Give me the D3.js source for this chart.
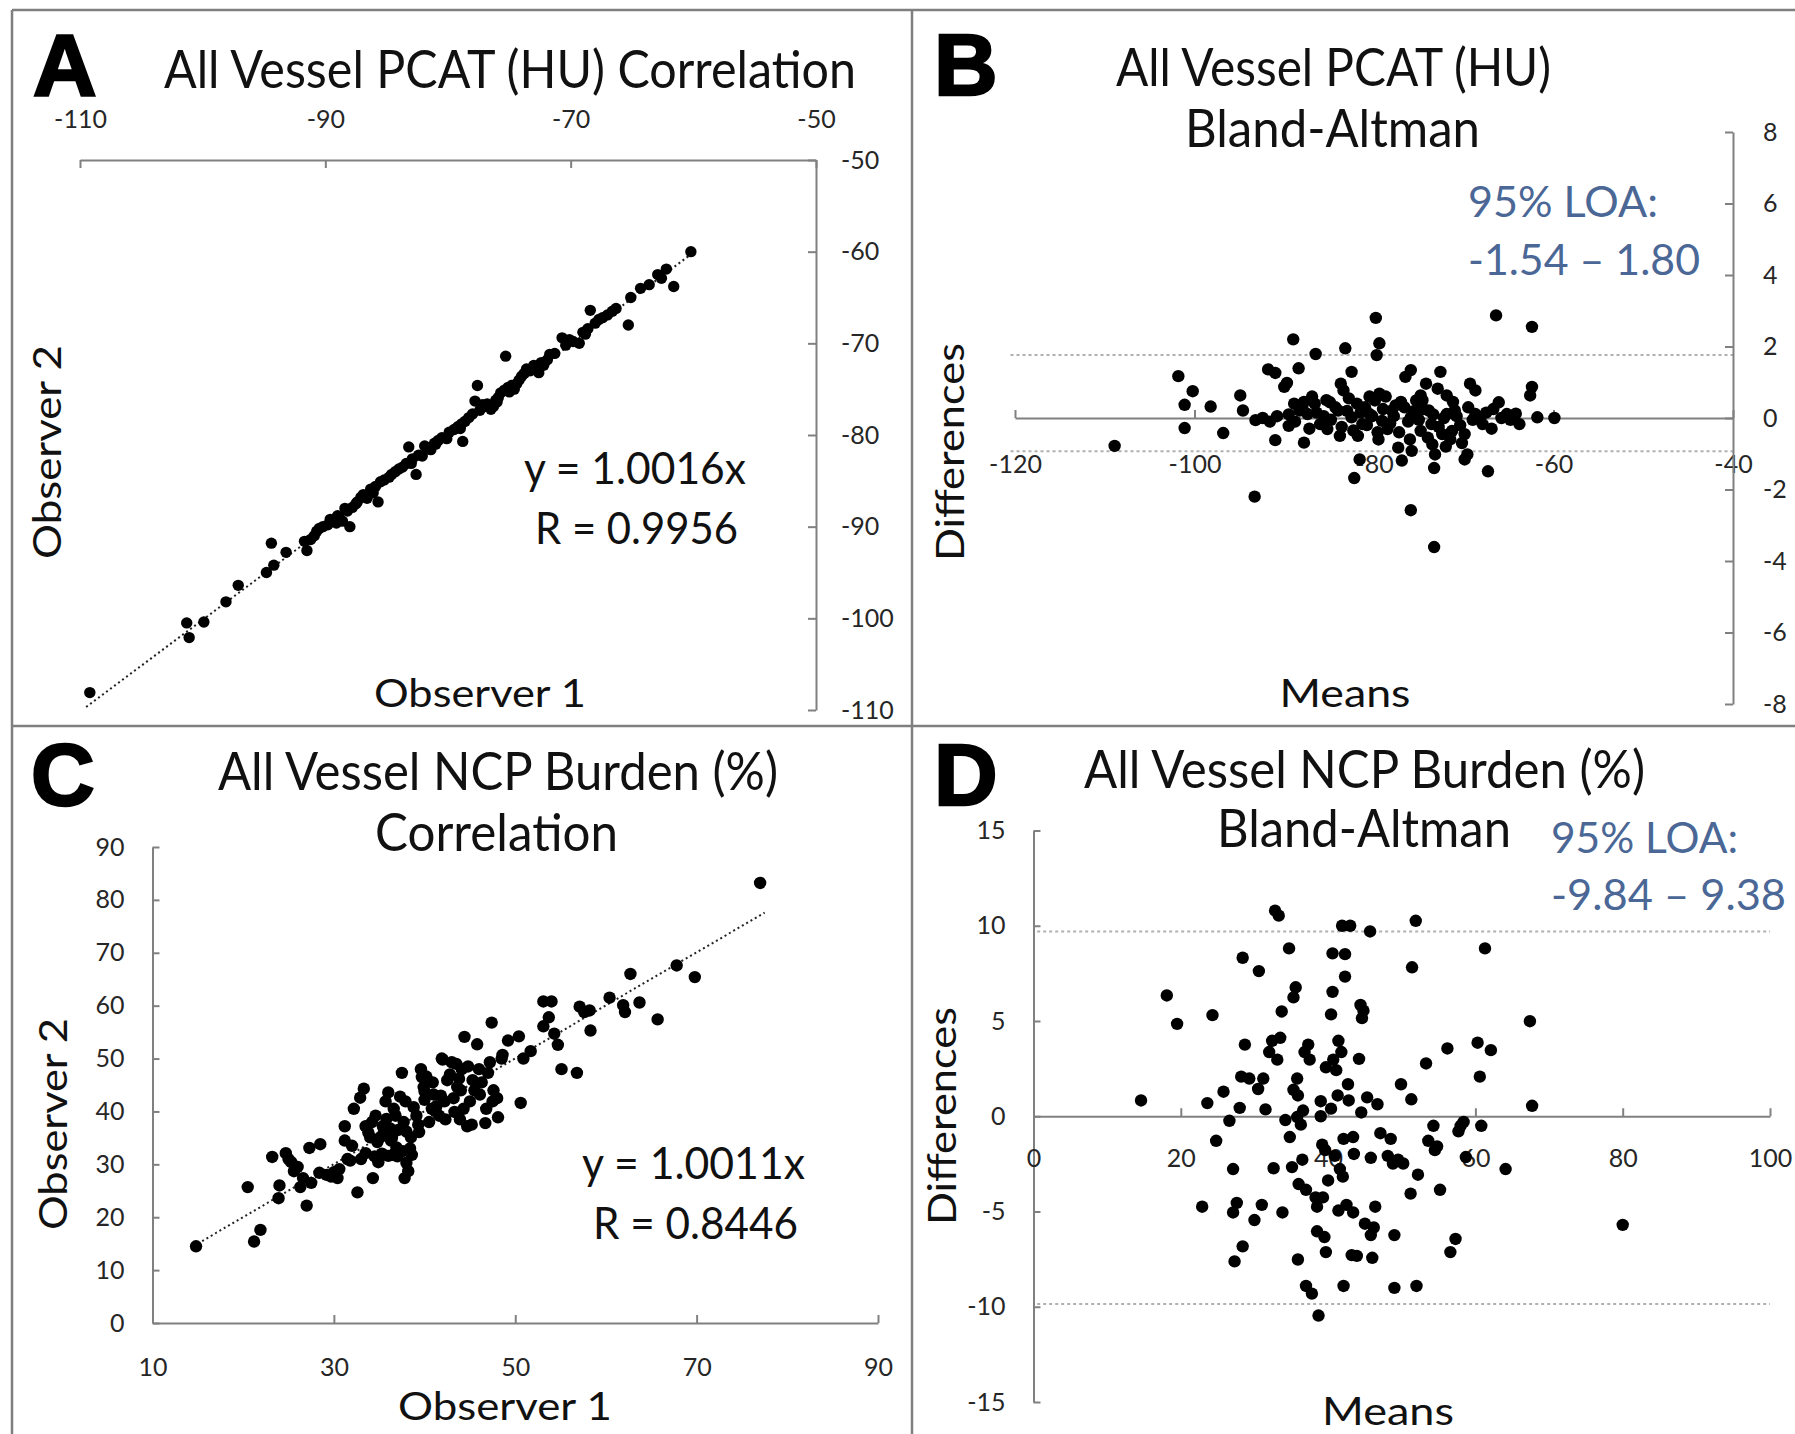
<!DOCTYPE html>
<html>
<head>
<meta charset="utf-8">
<script src="https://cdn.jsdelivr.net/npm/d3@7"></script>
<style>
  body { margin: 0; background: #fff; }
  svg { display: block; }
  .axis path, .axis line { stroke: #808080; stroke-width: 2; }
  .axis text { font-family: Lato, "Open Sans", sans-serif; font-size: 25px; fill: #262626; }
</style>
</head>
<body>
<svg id="chart"></svg>
<script>
// ---- data ----

// A: PCAT correlation (observer 1, observer 2)
const pcatObs1 = [-109.2,-101.3,-101.1,-99.9,-98.1,-97.1,-94.8,-94.4,-94.2,-93.2,-91.7,-91.5,-90.9,-90.5,-89.8,-89.4,-89.0,-88.6,-88.2,-88.0,
  -87.5,-86.9,-86.3,-85.7,-85.5,-84.6,-84.0,-83.4,-83.2,-82.6,-82.1,-81.7,-81.1,-80.5,-79.9,-79.2,-78.8,-78.6,-78.0,-77.6,
  -77.8,-77.2,-76.3,-76.1,-75.7,-75.3,-75.1,-74.4,-74.0,-73.6,-73.0,-72.6,-72.2,-71.7,-70.7,-70.1,-69.3,-68.8,-68.4,-68.0,
  -67.4,-66.3,-65.3,-65.1,-64.3,-62.6,-62.2,-61.6,-60.2,
  -90.2,-89.6,-89.1,-88.4,-87.8,-87.1,-86.6,-85.9,-85.2,-84.3,-83.7,-82.9,-82.4,-81.9,-81.4,-80.8,-80.1,-79.5,-78.9,-78.3,
  -77.4,-76.8,-76.5,-75.9,-75.4,-74.8,-74.2,-73.8,-73.3,-72.9,-72.4,-71.9,-71.3,-70.4,-69.8,-69.0,-68.6,-67.7,-67.0,-66.6,
  -63.6,-62.9,-91.2,-90.7,-88.9,-87.4,-86.1,-84.8,-83.0,-81.0,-79.0,-77.0,-76.0,-75.0,-74.6];
const pcatObs2 = [-108.1,-100.5,-102.1,-100.4,-98.2,-96.4,-95.0,-91.8,-94.2,-92.8,-91.6,-92.6,-91.0,-90.2,-89.8,-89.4,-88.8,-89.4,-88.3,-90.0,
  -87.5,-86.5,-85.9,-87.3,-85.1,-84.3,-83.7,-83.1,-81.3,-84.3,-82.3,-81.5,-80.9,-80.3,-79.7,-79.1,-80.7,-78.5,-77.7,-74.6,
  -76.3,-76.7,-76.9,-76.2,-75.4,-71.4,-74.8,-74.4,-73.6,-72.8,-72.4,-73.2,-72.4,-71.2,-69.4,-69.6,-70.0,-69.0,-66.4,-67.8,
  -67.2,-66.2,-68.0,-65.0,-64.0,-62.9,-61.9,-63.8,-60.0,
  -90.0,-89.2,-89.6,-88.0,-87.9,-86.8,-86.9,-85.6,-84.9,-84.0,-83.5,-82.6,-82.2,-81.2,-81.6,-80.6,-80.4,-79.4,-78.8,-78.1,
  -77.3,-76.6,-77.2,-75.9,-75.1,-74.6,-74.0,-73.3,-73.0,-72.7,-72.1,-71.8,-71.1,-70.2,-69.8,-68.8,-68.4,-67.4,-66.9,-66.5,
  -63.6,-62.5,-91.4,-90.5,-89.0,-87.3,-86.3,-84.6,-83.1,-81.0,-79.3,-76.9,-76.4,-75.3,-75.0];

// B: PCAT Bland-Altman (means, differences)
const pcatMeans = [-108.9,-101.8,-100.2,-101.1,-101.1,-98.2,-96.8,-94.9,-94.6,-93.3,-93.2,-91.8,-91.0,-91.0,-90.0,-89.7,-89.0,-88.4,-88.9,-88.3,
  -89.5,-87.8,-87.4,-86.6,-86.5,-86.0,-85.2,-84.9,-84.0,-83.7,-83.4,-83.2,-82.5,-82.5,-81.9,-81.8,-81.6,-82.2,-81.3,-80.5,
  -79.9,-79.8,-79.4,-79.7,-79.4,-79.1,-78.5,-78.0,-77.6,-77.3,-76.9,-76.5,-75.9,-75.9,-75.9,-75.8,-75.3,-74.8,-74.8,-74.2,
  -73.9,-73.6,-73.5,-73.3,-73.3,-73.2,-72.9,-72.6,-72.4,-71.9,-71.9,-71.3,-71.0,-69.9,-69.9,-69.6,-69.3,-68.7,-68.7,-67.9,
  -67.3,-66.7,-66.4,-66.1,-65.2,-63.8,-62.6,-62.4,-62.4,-61.8,-59.9,
  -89.5,-88.8,-88.0,-87.2,-86.4,-85.6,-84.8,-84.3,-83.6,-83.0,-82.3,-81.5,-81.0,-80.8,-80.2,-79.6,-79.0,-78.7,-78.2,-77.8,
  -77.2,-76.6,-76.2,-75.5,-75.0,-74.5,-74.0,-73.4,-72.8,-72.2,-71.5,-70.8,-70.4,-69.5,-69.0,-68.2,-67.5,-66.9,-65.8,-64.8,
  -64.2,-90.8,-91.6,-92.4,-86.9,-85.3,-82.8,-80.5,-77.0,-74.6,-71.2,-79.5,-83.8,-87.8,-76.0,-72.0,-70.2];
const pcatDiffs = [-0.78,1.17,0.75,0.37,-0.28,0.32,-0.42,0.63,0.21,-2.20,-0.06,1.36,1.26,-0.62,0.87,0.98,2.20,1.39,0.40,0.21,
  -0.22,-0.69,0.11,0.40,1.79,-0.17,-0.31,0.44,0.21,0.96,0.77,1.95,1.29,0.02,0.40,-0.50,-1.16,-1.68,-0.17,0.11,
  0.49,2.80,2.09,1.76,0.68,-0.08,-0.31,0.21,0.35,-0.83,-1.19,1.15,1.34,0.02,-2.58,-0.92,0.49,0.63,-0.36,0.96,
  0.21,-0.17,-0.74,-1.40,-3.61,-1.02,0.82,1.29,-0.45,0.63,0.11,-0.36,0.21,-0.45,-1.16,-1.02,0.96,0.77,0.11,-0.17,
  -1.49,0.25,2.87,0.44,0.11,-0.17,0.63,0.87,2.55,0.02,0.00,
  0.10,-0.10,0.30,-0.30,0.15,0.05,-0.05,0.30,-0.25,0.20,-0.35,0.15,0.30,-0.20,0.05,-0.40,0.25,0.60,-0.15,0.05,
  -0.40,0.30,-0.10,0.20,-0.05,0.25,-0.55,0.10,-0.25,0.00,-0.60,0.05,-0.20,0.30,-0.05,0.00,0.15,-0.30,0.00,-0.05,
  0.12,0.05,-0.10,0.00,0.60,0.50,0.55,0.60,0.45,0.50,0.45,-0.60,-0.50,0.45,-0.60,-0.80,-0.70];
const pcatLoaLines = [1.76, -0.93];

// C: NCP burden correlation (observer 1, observer 2)
const ncpObs1 = [14.8,20.5,21.2,21.9,23.2,24.0,23.9,24.7,25.3,25.6,26.3,26.6,27.0,27.3,28.5,28.4,29.2,30.4,30.6,31.2,
  31.2,31.8,32.2,32.6,32.9,33.3,33.5,33.5,34.0,34.3,34.6,34.9,35.1,35.4,35.7,36.0,36.3,36.5,36.8,37.1,
  37.5,37.8,37.9,38.2,38.5,38.6,39.1,39.4,39.6,39.9,40.2,40.8,41.0,41.6,41.9,42.2,42.5,43.0,43.3,43.6,
  43.9,44.1,44.4,44.7,45.0,45.3,45.8,46.1,46.7,47.0,47.2,47.4,47.5,48.1,48.6,49.2,50.4,50.6,50.9,51.7,
  53.1,53.1,53.7,54.0,54.3,54.7,55.1,56.8,57.1,57.6,58.2,58.3,60.4,61.9,62.1,62.7,63.7,65.7,67.8,69.8,77.0,
  33.8,34.2,34.8,35.3,35.8,36.2,36.6,36.9,37.3,37.7,38.0,38.4,38.8,39.3,40.0,40.5,40.9,41.3,41.8,42.3,
  42.8,43.2,43.8,44.3,44.8,45.5,46.3,46.8,47.6,48.0,32.0,31.5,30.0,29.7,33.0,34.5,36.0,37.0,38.0,37.6,
  26.0,25.0,27.5,35.5,36.4,39.7,42.0,43.5,45.2,41.2,40.0,44.0,46.0,48.5];
const ncpObs2 = [14.5,25.7,15.4,17.6,31.4,26.0,23.6,32.1,30.4,28.7,25.7,27.4,22.2,33.1,33.8,28.4,28.0,27.4,29.1,37.2,
  34.5,30.7,40.5,24.7,42.6,44.3,32.1,37.2,35.1,27.4,39.2,30.4,35.1,37.2,41.9,43.6,34.5,31.8,39.2,36.5,
  47.3,27.4,41.9,28.7,35.1,31.8,39.2,36.1,48.0,44.6,46.6,40.5,43.2,39.2,50.0,41.9,45.9,49.3,39.9,44.6,
  38.5,48.0,54.1,37.2,41.9,45.9,52.7,43.2,37.8,47.3,49.3,56.8,41.9,38.9,50.7,53.4,54.2,41.6,50.0,51.4,
  60.8,56.1,57.8,60.8,54.7,52.6,48.0,47.3,59.8,58.8,59.1,55.3,61.5,60.1,58.8,66.0,60.6,57.4,67.6,65.4,83.2,
  36.0,38.0,34.2,32.0,38.6,36.8,40.5,33.2,42.8,38.0,36.2,33.0,40.8,37.5,42.2,38.0,45.5,41.0,43.0,38.5,
  47.0,42.5,46.2,40.5,48.5,44.0,45.5,40.5,44.0,42.5,33.5,31.0,28.5,27.7,31.0,31.5,31.6,31.5,30.3,32.5,
  29.5,31.0,26.5,36.0,35.0,46.5,49.8,49.0,37.5,40.0,43.8,44.0,48.0,50.0];

// D: NCP burden Bland-Altman (means, differences)
const ncpMeans = [14.6,18.1,19.5,22.9,23.6,24.3,24.8,25.8,26.6,27.1,27.1,27.3,27.6,28.0,28.2,28.4,28.4,28.7,29.3,30.0,
  30.5,30.6,31.0,31.2,31.5,32.0,32.4,32.6,32.8,33.3,33.1,33.5,33.7,33.8,34.2,34.7,34.8,35.1,35.3,35.3,
  35.6,35.8,35.8,35.9,35.9,36.0,36.3,36.5,36.6,36.8,37.0,37.0,37.3,37.5,37.8,38.3,38.5,38.5,38.7,39.0,
  39.0,39.2,39.3,39.5,39.6,39.7,39.7,40.0,40.4,40.4,40.6,40.6,40.7,40.9,41.1,41.3,41.4,41.4,41.6,41.8,
  41.9,42.0,42.1,42.1,42.3,42.3,42.5,42.7,42.8,43.0,43.2,43.4,43.4,43.5,43.9,44.2,44.4,44.5,44.6,44.8,
  45.0,45.3,45.7,45.8,45.8,46.0,46.2,46.4,46.7,47.1,48.1,48.5,48.8,49.0,49.0,49.5,49.9,50.2,51.2,51.3,
  51.4,51.9,52.0,52.2,53.3,53.6,54.3,54.5,54.8,55.2,56.2,56.6,57.3,57.7,58.0,58.4,58.7,60.3,60.6,60.8,
  61.3,62.1,64.1,67.4,67.7,80.0];
const ncpDiffs = [0.83,6.34,4.85,-4.75,0.69,5.31,-1.29,1.29,-0.24,-2.77,-5.05,-7.62,-4.55,0.44,2.08,8.32,-6.83,3.76,1.98,-5.45,
  1.43,7.62,-4.65,1.98,0.36,3.37,3.96,-2.73,10.79,10.53,2.97,4.12,5.50,-5.05,-0.20,8.81,-1.09,-2.67,1.39,6.24,
  6.77,1.98,-0.04,1.09,-7.52,-3.56,-0.44,-2.28,0.30,3.37,-3.86,-8.91,3.76,2.97,-9.31,-4.26,-4.75,-6.04,-10.46,0.00,
  0.79,-1.49,-4.26,-6.34,-1.78,-7.13,2.57,-3.37,5.35,0.40,8.55,6.53,2.97,-2.08,2.42,1.09,-4.95,3.96,-2.77,3.37,
  10.00,-3.17,-1.19,-8.91,8.51,7.33,-4.65,1.68,0.83,10.00,-7.29,-1.09,-5.05,-1.98,-7.33,3.01,5.84,0.20,5.15,5.54,
  -5.64,0.99,9.70,-2.18,-6.24,-7.43,-5.84,-4.75,0.63,-0.89,-2.08,-1.19,-2.48,-6.24,-9.01,-2.28,1.68,-2.48,-4.06,0.89,
  7.82,10.26,-8.91,-3.07,2.77,-1.29,-0.50,-1.78,-1.58,-3.86,3.56,-7.13,-6.44,-0.79,-0.50,-0.30,-2.14,3.86,2.08,-0.50,
  8.81,3.47,-2.77,4.99,0.55,-5.70];
const ncpLoaLines = [9.70, -9.86];

// tick values
const pcatCorrTicks = [-110, -100, -90, -80, -70, -60, -50];
const pcatCorrXTicks = [-110, -90, -70, -50];
const pcatBaXTicks = [-120, -100, -80, -60, -40];
const pcatBaYTicks = [-8, -6, -4, -2, 0, 2, 4, 6, 8];
const ncpCorrYTicks = [0, 10, 20, 30, 40, 50, 60, 70, 80, 90];
const ncpCorrXTicks = [10, 30, 50, 70, 90];
const ncpBaXTicks = [0, 20, 40, 60, 80, 100];
const ncpBaYTicks = [-15, -10, -5, 0, 5, 10, 15];

// trend slopes
const pcatSlope = 1.0016, ncpSlope = 1.0011;

// ---- drawing ----
const W = 1795, H = 1434;
const FONT = 'Lato, "Open Sans", sans-serif';
const plain = d => String(d);   // keep a hyphen for negatives, as in the source figure
const svg = d3.select('#chart').attr('width', W).attr('height', H);
svg.append('rect').attr('width', W).attr('height', H).attr('fill', '#fff');

// panel frame
const frame = [[12, 10, W, 10], [12, 10, 12, H], [912, 10, 912, H], [12, 726, W, 726]];
svg.selectAll('line.frame').data(frame).join('line')
  .attr('class', 'frame')
  .attr('x1', d => d[0]).attr('y1', d => d[1]).attr('x2', d => d[2]).attr('y2', d => d[3])
  .attr('stroke', '#7f7f7f').attr('stroke-width', 2.5);

function label(txt, x, y, opt) {
  opt = opt || {};
  const t = svg.append('text')
    .attr('x', x).attr('y', y)
    .attr('font-family', opt.family || FONT)
    .attr('font-size', opt.size || 40)
    .attr('font-weight', opt.weight || 'normal')
    .attr('fill', opt.fill || '#111')
    .attr('text-anchor', opt.anchor || 'start')
    .text(txt);
  if (opt.len) t.attr('textLength', opt.len).attr('lengthAdjust', 'spacingAndGlyphs');
  if (opt.rotate) t.attr('transform', `rotate(-90,${x},${y})`);
  return t;
}

function letter(txt, x, y) {
  label(txt, x, y, {family: '"Liberation Sans", Arial, sans-serif', size: 88, weight: 'bold', fill: '#000'})
    .attr('stroke', '#000').attr('stroke-width', 2.5);
}

function dots(xs, ys, xScale, yScale, r) {
  svg.append('g').selectAll('circle').data(xs).join('circle')
    .attr('cx', d => xScale(d))
    .attr('cy', (d, i) => yScale(ys[i]))
    .attr('r', r).attr('fill', '#000');
}

function axis(gen, tx, ty) {
  svg.append('g').attr('class', 'axis')
    .attr('transform', `translate(${tx},${ty})`)
    .call(gen);
}

// ---------- Panel A ----------
const xA = d3.scaleLinear().domain([-110, -50]).range([80, 816]);
const yA = d3.scaleLinear().domain([-50, -110]).range([160, 710]);
axis(d3.axisTop(xA).tickValues(pcatCorrXTicks).tickFormat(plain).tickSizeInner(-8).tickSizeOuter(0).tickPadding(32), 0, yA(-50));
axis(d3.axisRight(yA).tickValues(pcatCorrTicks).tickFormat(plain).tickSizeInner(-8).tickSizeOuter(0).tickPadding(25), xA(-50), 0);
svg.append('line')
  .attr('x1', xA(-109.5)).attr('y1', yA(-109.5 * pcatSlope))
  .attr('x2', xA(-60)).attr('y2', yA(-60 * pcatSlope))
  .attr('stroke', '#222').attr('stroke-width', 2).attr('stroke-dasharray', '2,3');
dots(pcatObs1, pcatObs2, xA, yA, 5.7);
letter('A', 33, 95);
label('All Vessel PCAT (HU) Correlation', 164, 88, {size: 52, len: 692});
label('Observer 2', 61, 452, {size: 38, anchor: 'middle', rotate: true, len: 214});
label('Observer 1', 480, 707, {size: 38, anchor: 'middle', len: 212});
label('y = 1.0016x', 524, 484, {size: 44, len: 222});
label('R = 0.9956', 535, 544, {size: 44, len: 203});

// ---------- Panel B ----------
const xB = d3.scaleLinear().domain([-120, -40]).range([1015, 1733]);
const yB = d3.scaleLinear().domain([8, -8]).range([132, 704]);
svg.selectAll('line.loaB').data(pcatLoaLines).join('line')
  .attr('class', 'loaB')
  .attr('x1', xB(-120.5)).attr('x2', xB(-40))
  .attr('y1', d => yB(d)).attr('y2', d => yB(d))
  .attr('stroke', '#b0b0b0').attr('stroke-width', 2).attr('stroke-dasharray', '3,3');
axis(d3.axisBottom(xB).tickValues(pcatBaXTicks).tickFormat(plain).tickSizeInner(-8).tickSizeOuter(0).tickPadding(37), 0, yB(0));
axis(d3.axisRight(yB).tickValues(pcatBaYTicks).tickFormat(plain).tickSizeInner(-8).tickSizeOuter(0).tickPadding(30), xB(-40), 0);
dots(pcatMeans, pcatDiffs, xB, yB, 6.2);
letter('B', 934, 95);
label('All Vessel PCAT (HU)', 1116, 86, {size: 52, len: 435});
label('Bland-Altman', 1185, 147, {size: 52, len: 295});
label('95% LOA:', 1468, 217, {size: 42, len: 190, fill: '#4a6796'});
label('-1.54 \u2013 1.80', 1468, 275, {size: 42, len: 232, fill: '#4a6796'});
label('Differences', 964, 452, {size: 38, anchor: 'middle', rotate: true, len: 218});
label('Means', 1345, 707, {size: 38, anchor: 'middle', len: 131});

// ---------- Panel C ----------
const xC = d3.scaleLinear().domain([10, 90]).range([152.5, 878]);
const yC = d3.scaleLinear().domain([0, 90]).range([1323, 847]);
axis(d3.axisLeft(yC).tickValues(ncpCorrYTicks).tickFormat(plain).tickSizeInner(-7).tickSizeOuter(0).tickPadding(28), xC(10), 0);
axis(d3.axisBottom(xC).tickValues(ncpCorrXTicks).tickFormat(plain).tickSizeInner(-8).tickSizeOuter(0).tickPadding(35), 0, yC(0));
svg.append('line')
  .attr('x1', xC(15)).attr('y1', yC(15 * ncpSlope))
  .attr('x2', xC(77.5)).attr('y2', yC(77.5 * ncpSlope))
  .attr('stroke', '#222').attr('stroke-width', 2).attr('stroke-dasharray', '2,3');
dots(ncpObs1, ncpObs2, xC, yC, 6.2);
letter('C', 31, 805);
label('All Vessel NCP Burden (%)', 218, 790, {size: 52, len: 560});
label('Correlation', 375, 851, {size: 52, len: 243});
label('Observer 2', 67, 1124, {size: 38, anchor: 'middle', rotate: true, len: 212});
label('Observer 1', 505, 1420, {size: 38, anchor: 'middle', len: 214});
label('y = 1.0011x', 582, 1179, {size: 44, len: 223});
label('R = 0.8446', 593, 1239, {size: 44, len: 205});

// ---------- Panel D ----------
const xD = d3.scaleLinear().domain([0, 100]).range([1033.5, 1770]);
const yD = d3.scaleLinear().domain([15, -15]).range([830.5, 1402]);
svg.selectAll('line.loaD').data(ncpLoaLines).join('line')
  .attr('class', 'loaD')
  .attr('x1', xD(0.5)).attr('x2', xD(100))
  .attr('y1', d => yD(d)).attr('y2', d => yD(d))
  .attr('stroke', '#b0b0b0').attr('stroke-width', 2).attr('stroke-dasharray', '3,3');
axis(d3.axisLeft(yD).tickValues(ncpBaYTicks).tickFormat(plain).tickSizeInner(-7).tickSizeOuter(0).tickPadding(28), xD(0), 0);
axis(d3.axisBottom(xD).tickValues(ncpBaXTicks).tickFormat(plain).tickSizeInner(-8).tickSizeOuter(0).tickPadding(33), 0, yD(0));
dots(ncpMeans, ncpDiffs, xD, yD, 6.2);
letter('D', 934, 805);
label('All Vessel NCP Burden (%)', 1084, 788, {size: 52, len: 561});
label('Bland-Altman', 1217, 847, {size: 52, len: 294});
label('95% LOA:', 1551, 853, {size: 42, len: 187, fill: '#4a6796'});
label('-9.84 \u2013 9.38', 1551, 910, {size: 42, len: 235, fill: '#4a6796'});
label('Differences', 956, 1116, {size: 38, anchor: 'middle', rotate: true, len: 218});
label('Means', 1388, 1425, {size: 38, anchor: 'middle', len: 132});
</script>
</body>
</html>
